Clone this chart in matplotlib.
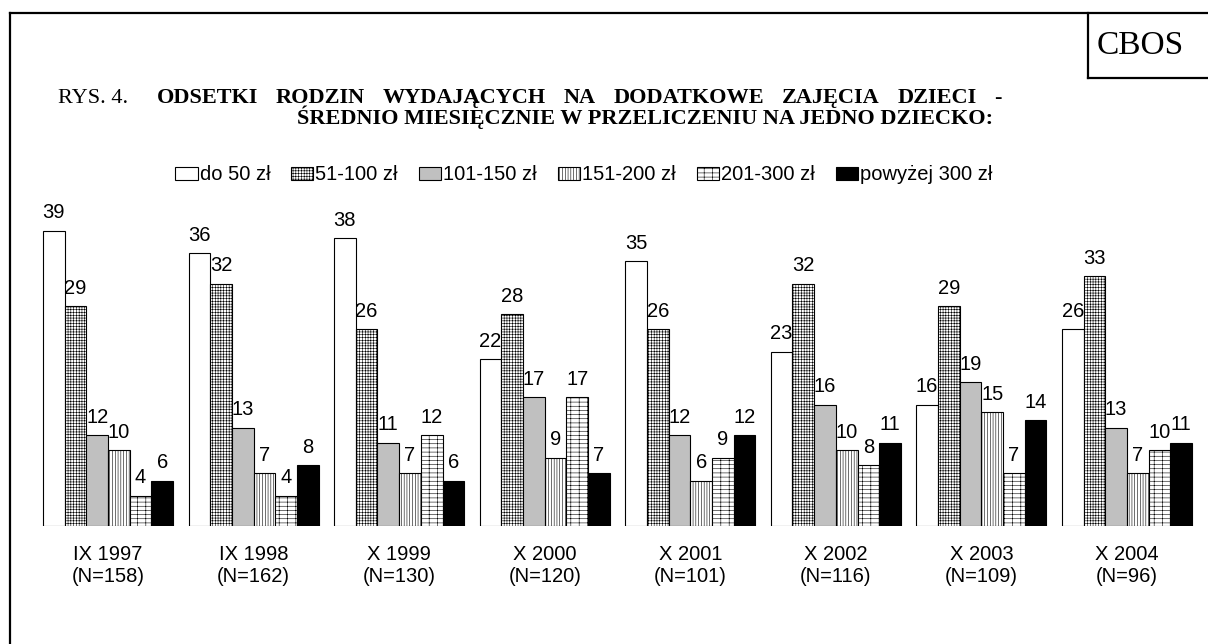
import numpy as np
import matplotlib.pyplot as plt
from matplotlib.patches import Patch
from matplotlib.lines import Line2D

# --- Data ---
periods = ["IX 1997", "IX 1998", "X 1999", "X 2000", "X 2001", "X 2002", "X 2003", "X 2004"]
sample_n = [158, 162, 130, 120, 101, 116, 109, 96]
series = ["do 50 zł", "51-100 zł", "101-150 zł", "151-200 zł", "201-300 zł", "powyżej 300 zł"]

do_50 = [39, 36, 38, 22, 35, 23, 16, 26]
od_51_100 = [29, 32, 26, 28, 26, 32, 29, 33]
od_101_150 = [12, 13, 11, 17, 12, 16, 19, 13]
od_151_200 = [10, 7, 7, 9, 6, 10, 15, 7]
od_201_300 = [4, 4, 12, 17, 9, 8, 7, 10]
powyzej_300 = [6, 8, 6, 7, 12, 11, 14, 11]
values = [do_50, od_51_100, od_101_150, od_151_200, od_201_300, powyzej_300]

title_line1 = "ODSETKI RODZIN WYDAJĄCYCH NA DODATKOWE ZAJĘCIA DZIECI -"
title_line2 = "ŚREDNIO MIESIĘCZNIE W PRZELICZENIU NA JEDNO DZIECKO:"

# --- Styles ---
face = ["white", "white", "#c0c0c0", "white", "white", "black"]
hatch = [None, "++++++", None, "||||||", "----||", None]

plt.rcParams["hatch.linewidth"] = 0.4
plt.rcParams["font.family"] = ["Liberation Sans", "DejaVu Sans"]

W, H = 1208, 644
fig = plt.figure(figsize=(W / 100, H / 100), dpi=100)


def fx(px):
    return px / W


def fy(py):
    return 1 - py / H


# Axes placed in pixels: baseline at y=526, 7.57 px per percent
base = 526
ymax = 40
top = base - ymax * 7.57
left_px = 108 - 72.75
right_px = 1127 + 72.75
ax = fig.add_axes([fx(left_px), fy(base), fx(right_px - left_px), (base - top) / H])

x = np.arange(len(periods))
bw = 0.149
for j, vals in enumerate(values):
    pos = x + (j - 2.5) * bw
    ax.bar(pos, vals, width=bw, color=face[j], edgecolor="black", linewidth=0.8,
           hatch=hatch[j], label=series[j])
    for xi, v in zip(pos, vals):
        ax.annotate(str(v), (xi, v), xytext=(0, 9), textcoords="offset points",
                    ha="center", va="baseline", fontsize=14.5)

ax.set_xlim(-0.5, len(periods) - 0.5)
ax.set_ylim(0, ymax)
ax.set_xticks(x)
ax.set_xticklabels([f"{p}\n(N={n})" for p, n in zip(periods, sample_n)], fontsize=14.5)
ax.tick_params(axis="x", length=0, pad=14)
ax.set_yticks([])
for s in ax.spines.values():
    s.set_visible(False)
ax.patch.set_visible(False)

# Legend
handles = [Patch(facecolor=face[j], edgecolor="black", hatch=hatch[j], linewidth=0.8)
           for j in range(len(series))]
fig.legend(handles, series, loc="center", bbox_to_anchor=(fx(584), fy(175)), ncol=6,
           frameon=False, fontsize=14.5, handlelength=1.1, handleheight=0.6,
           handletextpad=0.1, columnspacing=1.05, borderpad=0)

# Titles
fig.text(fx(58), fy(103), "RYS. 4.", family="Liberation Serif", fontsize=16, va="baseline")

# first title line is stretched to full width (justified), like in the source
renderer = fig.canvas.get_renderer()
words = title_line1.split(" ")
wtexts = [fig.text(0, fy(103), w, family="Liberation Serif", fontweight="bold",
                   fontsize=16, va="baseline") for w in words]
widths = [t.get_window_extent(renderer).width for t in wtexts]
gap = (1002 - 157 - sum(widths)) / (len(words) - 1)
xp = 157
for t, wd in zip(wtexts, widths):
    t.set_x(fx(xp))
    xp += wd + gap

fig.text(fx(297), fy(124), title_line2, family="Liberation Serif", fontweight="bold",
         fontsize=16, va="baseline")
fig.text(fx(1097), fy(54), "CBOS", family="Liberation Serif", fontsize=24, va="baseline")

# Frame lines
lw = 1.6
fig.add_artist(Line2D([fx(10), fx(10)], [fy(13), 0], color="black", lw=lw))
fig.add_artist(Line2D([fx(10), 1], [fy(13), fy(13)], color="black", lw=lw))
fig.add_artist(Line2D([fx(1088), fx(1088)], [fy(13), fy(78)], color="black", lw=lw))
fig.add_artist(Line2D([fx(1088), 1], [fy(78), fy(78)], color="black", lw=lw))

fig.savefig("out.png", dpi=100)
